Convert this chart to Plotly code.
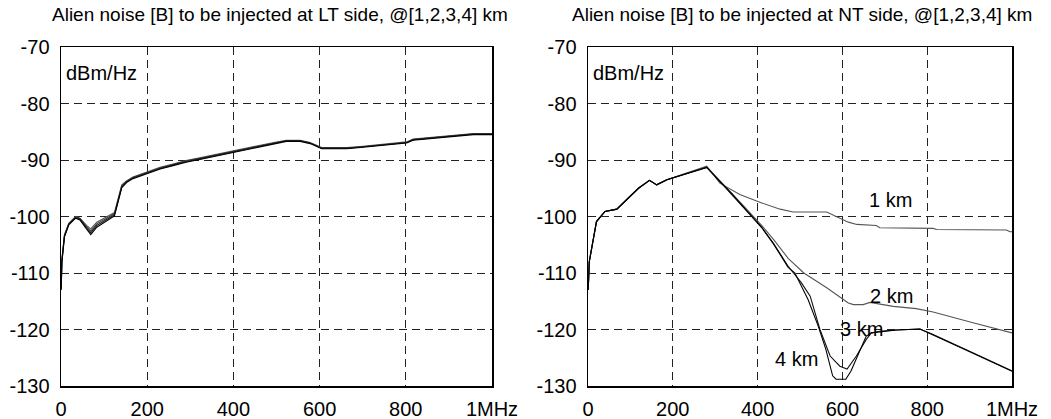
import plotly.graph_objects as go

# ---------------- data ----------------
# LT side (left panel): frequency in kHz, PSD in dBm/Hz for 1,2,3,4 km
f_lt = [0.5, 2, 8, 18, 34, 44, 60, 69, 83, 106, 124, 141, 152, 167, 199, 230, 260, 290,
        322, 360, 400, 440, 477, 500, 523, 555, 578, 605, 630, 663, 695, 725, 760, 802,
        817, 860, 910, 957, 1000]
lt_1km = [-112.0, -107.5, -103.2, -101.2, -100.0, -100.3, -101.6, -102.2, -101.0, -100.0,
          -99.3, -94.4, -93.7, -93.0, -92.1, -91.3, -90.7, -90.1, -89.6, -89.0, -88.3,
          -87.7, -87.2, -86.8, -86.5, -86.5, -86.9, -87.8, -87.8, -87.8, -87.6, -87.4,
          -87.1, -86.8, -86.3, -86.0, -85.6, -85.3, -85.3]
lt_2km = [-112.5, -107.8, -103.4, -101.3, -100.1, -100.4, -101.9, -102.6, -101.3, -100.3,
          -99.5, -94.6, -93.8, -93.1, -92.2, -91.4, -90.8, -90.2, -89.7, -89.1, -88.4,
          -87.8, -87.3, -86.9, -86.6, -86.6, -87.0, -87.9, -87.9, -87.9, -87.7, -87.5,
          -87.2, -86.9, -86.4, -86.1, -85.7, -85.4, -85.4]
lt_3km = [-112.8, -108.0, -103.5, -101.4, -100.2, -100.5, -102.1, -102.9, -101.6, -100.5,
          -99.7, -94.8, -93.9, -93.2, -92.3, -91.5, -90.9, -90.3, -89.8, -89.2, -88.5,
          -87.9, -87.3, -87.0, -86.6, -86.6, -87.0, -87.9, -87.9, -87.9, -87.7, -87.5,
          -87.2, -86.9, -86.4, -86.1, -85.7, -85.4, -85.4]
lt_4km = [-113.0, -108.2, -103.6, -101.5, -100.3, -100.6, -102.3, -103.2, -101.9, -100.7,
          -99.9, -94.9, -94.0, -93.3, -92.4, -91.6, -91.0, -90.4, -89.9, -89.3, -88.6,
          -88.0, -87.4, -87.1, -86.7, -86.7, -87.1, -88.0, -88.0, -88.0, -87.8, -87.6,
          -87.3, -87.0, -86.5, -86.2, -85.8, -85.5, -85.5]

# NT side (right panel)
f_nt_1km = [0.5, 3, 20, 40, 68, 87, 119, 145, 162, 186, 241, 280, 311, 358, 410, 453,
            484, 563, 614, 634, 680, 688, 814, 822, 987, 995, 1000]
nt_1km = [-113.0, -108.0, -100.9, -99.1, -98.7, -97.3, -95.0, -93.6, -94.4, -93.5, -92.1,
          -91.1, -94.1, -96.1, -97.6, -98.7, -99.2, -99.2, -101.0, -101.4, -101.6, -102.0,
          -102.1, -102.3, -102.4, -102.7, -102.7]
f_nt_2km = [0.5, 3, 20, 40, 68, 87, 119, 145, 162, 186, 241, 280, 300, 340, 374, 410,
            437, 472, 509, 563, 614, 626, 649, 665, 720, 774, 814, 908, 987, 1000]
nt_2km = [-113.0, -108.0, -100.9, -99.1, -98.7, -97.3, -95.0, -93.6, -94.4, -93.5, -92.2,
          -91.2, -92.8, -95.9, -98.7, -101.6, -104.0, -107.4, -110.0, -112.6, -115.3,
          -115.6, -115.6, -115.2, -115.9, -116.3, -116.9, -118.8, -120.3, -120.6]
f_nt_3km = [0.5, 3, 20, 40, 68, 87, 119, 145, 162, 186, 241, 280, 300, 340, 374, 410,
            437, 472, 503, 524, 547, 571, 594, 611, 633, 656, 668, 688, 728, 783, 814,
            908, 1000]
nt_3km = [-113.0, -108.0, -100.9, -99.1, -98.7, -97.3, -95.0, -93.6, -94.4, -93.5, -92.2,
          -91.3, -92.9, -96.0, -98.9, -101.9, -104.7, -108.8, -111.7, -114.1, -120.0,
          -124.7, -126.5, -127.0, -124.7, -121.8, -120.6, -120.3, -120.1, -119.9, -120.9,
          -124.1, -127.3]
f_nt_4km = [0.5, 3, 20, 40, 68, 87, 119, 145, 162, 186, 241, 280, 300, 340, 374, 410,
            437, 472, 488, 519, 543, 561, 577, 585, 608, 620, 637, 656, 668, 688, 728,
            783, 814, 908, 1000]
nt_4km = [-113.0, -108.0, -100.9, -99.1, -98.7, -97.3, -95.0, -93.6, -94.4, -93.5, -92.2,
          -91.3, -92.9, -96.1, -99.0, -102.0, -104.8, -109.0, -110.0, -114.7, -119.4,
          -123.5, -128.2, -128.8, -128.8, -127.4, -124.4, -121.2, -120.6, -120.4, -120.1,
          -119.9, -121.0, -124.2, -127.4]

km_labels = ["1 km", "2 km", "3 km", "4 km"]
km_label_x = [713, 716, 645, 492]
km_label_y = [-97.0, -114.0, -119.9, -125.2]

x_tickvals = [0, 200, 400, 600, 800, 1000]
x_ticktext = ["0", "200", "400", "600", "800", "1MHz"]
y_tickvals = [-130, -120, -110, -100, -90, -80, -70]
y_ticktext = ["-130", "-120", "-110", "-100", "-90", "-80", "-70"]

titles = ["Alien noise [B] to be injected at LT side, @[1,2,3,4] km",
          "Alien noise [B] to be injected at NT side, @[1,2,3,4] km"]
unit_label = "dBm/Hz"

# ---------------- figure ----------------
FONT = "Liberation Sans, Arial, Helvetica, sans-serif"
GRAY = "#555555"
BLACK = "#000000"

fig = go.Figure()

lt_series = [(lt_1km, GRAY), (lt_2km, "#333333"), (lt_3km, "#222222"), (lt_4km, BLACK)]
for ys, col in lt_series:
    fig.add_trace(go.Scatter(x=f_lt, y=ys, mode="lines", line=dict(color=col, width=1.1),
                             xaxis="x", yaxis="y", showlegend=False, hoverinfo="skip"))

nt_series = [(f_nt_1km, nt_1km, GRAY), (f_nt_2km, nt_2km, GRAY),
             (f_nt_3km, nt_3km, "#111111"), (f_nt_4km, nt_4km, BLACK)]
for xs, ys, col in nt_series:
    fig.add_trace(go.Scatter(x=xs, y=ys, mode="lines", line=dict(color=col, width=1.1),
                             xaxis="x2", yaxis="y2", showlegend=False, hoverinfo="skip"))

W, H = 1051, 419
OFF = 0  # page body margin removed via post_script
def px_x(p):
    return (p - OFF) / W
def px_y(p):
    return 1 - (p - OFF) / H

dom_y = [px_y(386), px_y(47)]
dom_x1 = [px_x(61), px_x(492)]
dom_x2 = [px_x(588), px_x(1012)]

axis_common = dict(showline=True, linecolor="black", linewidth=1.5, mirror=True,
                   showgrid=True, gridcolor="#222222", gridwidth=1, griddash="8px,5px",
                   zeroline=False, ticks="", automargin=False, fixedrange=True,
                   tickfont=dict(family=FONT, size=20, color="black"))

xaxis_cfg = dict(axis_common, range=[0, 1000], tickvals=x_tickvals, ticktext=x_ticktext,
                 ticklabelstandoff=4)
yaxis_cfg = dict(axis_common, range=[-130, -70], tickvals=y_tickvals, ticktext=y_ticktext,
                 ticklabelstandoff=6)

fig.update_layout(
    template="none",
    width=W, height=H,
    margin=dict(l=0, r=0, t=0, b=0, autoexpand=False),
    paper_bgcolor="white", plot_bgcolor="white",
    hovermode=False,
    xaxis=dict(xaxis_cfg, domain=dom_x1, anchor="y"),
    yaxis=dict(yaxis_cfg, domain=dom_y, anchor="x"),
    xaxis2=dict(xaxis_cfg, domain=dom_x2, anchor="y2"),
    yaxis2=dict(yaxis_cfg, domain=dom_y, anchor="x2"),
)

annotations = []
centers = [px_x(280), px_x(802)]
for t, cx in zip(titles, centers):
    annotations.append(dict(text=t, x=cx, y=px_y(15), xref="paper", yref="paper",
                            xanchor="center", yanchor="middle", showarrow=False,
                            font=dict(family=FONT, size=19, color="black")))
for xr, yr in [("x", "y"), ("x2", "y2")]:
    annotations.append(dict(text=unit_label, x=8, y=-74.6, xref=xr, yref=yr,
                            xanchor="left", yanchor="middle", showarrow=False,
                            font=dict(family=FONT, size=20, color="black")))
for lab, lx, ly in zip(km_labels, km_label_x, km_label_y):
    annotations.append(dict(text=lab, x=lx, y=ly, xref="x2", yref="y2",
                            xanchor="center", yanchor="middle", showarrow=False,
                            font=dict(family=FONT, size=20, color="black")))
fig.update_layout(annotations=annotations)

fig.write_html("out.html",
               config={"displayModeBar": False, "staticPlot": True},
               post_script="document.body.style.margin='0px';document.body.style.overflow='hidden';")
